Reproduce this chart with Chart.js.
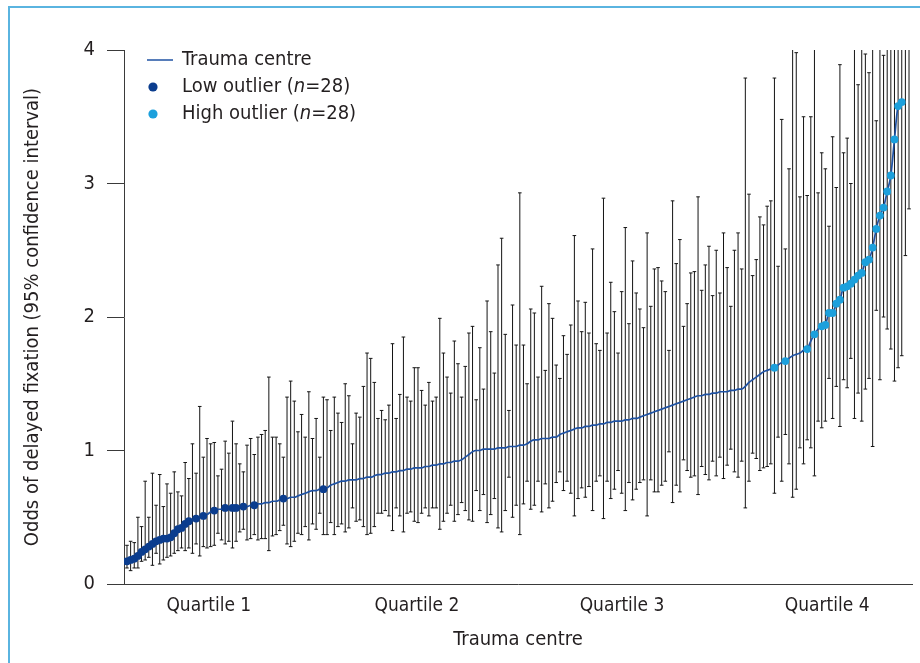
<!DOCTYPE html>
<html>
<head>
<meta charset="utf-8">
<script src="https://cdn.jsdelivr.net/npm/chart.js@4.4.1/dist/chart.umd.min.js"></script>
<style>
  html, body { margin: 0; padding: 0; background: #ffffff; }
  #wrap { position: relative; width: 920px; height: 663px; overflow: hidden; }
  #wrap canvas { position: absolute; left: 0; top: 0; }
  #frame { position: absolute; left: 8px; top: 6px; width: 1000px; height: 1000px;
           border: 2px solid #5ab4e0; box-sizing: border-box; pointer-events: none; }
</style>
</head>
<body>
<div id="wrap">
  <canvas id="chart" width="920" height="663"></canvas>
  <div id="frame"></div>
</div>
<script>
// Trauma centres ranked by odds of delayed fixation, with 95% confidence intervals.
const quartileLabels = ['Quartile 1', 'Quartile 2', 'Quartile 3', 'Quartile 4'];
const seriesNames = ['Trauma centre', 'Low outlier', 'High outlier'];
const axisTitles = ['Odds of delayed fixation (95% confidence interval)', 'Trauma centre'];

// Point estimate per centre, in rank order
const centreOdds = [
  0.17, 0.18, 0.19, 0.21, 0.24, 0.26, 0.28, 0.30, 0.32, 0.33,
  0.34, 0.34, 0.35, 0.38, 0.41, 0.42, 0.45, 0.47, 0.48, 0.49,
  0.50, 0.51, 0.52, 0.54, 0.55, 0.56, 0.56, 0.57, 0.57, 0.57,
  0.57, 0.58, 0.58, 0.58, 0.59, 0.59, 0.60, 0.60, 0.61, 0.61,
  0.62, 0.62, 0.63, 0.64, 0.64, 0.65, 0.65, 0.66, 0.67, 0.68,
  0.69, 0.70, 0.70, 0.71, 0.71, 0.72, 0.74, 0.75, 0.76, 0.77,
  0.77, 0.78, 0.78, 0.78, 0.79, 0.79, 0.80, 0.80, 0.81, 0.82,
  0.82, 0.83, 0.83, 0.84, 0.84, 0.85, 0.85, 0.86, 0.86, 0.87,
  0.87, 0.87, 0.88, 0.88, 0.89, 0.89, 0.90, 0.90, 0.91, 0.91,
  0.92, 0.92, 0.93, 0.95, 0.97, 0.99, 1.00, 1.00, 1.01, 1.01,
  1.01, 1.01, 1.02, 1.02, 1.02, 1.03, 1.03, 1.03, 1.04, 1.04,
  1.05, 1.07, 1.08, 1.08, 1.09, 1.09, 1.09, 1.10, 1.10, 1.12,
  1.13, 1.14, 1.15, 1.16, 1.17, 1.17, 1.18, 1.18, 1.19, 1.19,
  1.20, 1.20, 1.21, 1.21, 1.22, 1.22, 1.22, 1.23, 1.23, 1.24,
  1.24, 1.25, 1.26, 1.27, 1.28, 1.29, 1.30, 1.31, 1.32, 1.33,
  1.34, 1.35, 1.36, 1.37, 1.38, 1.39, 1.40, 1.41, 1.41, 1.42,
  1.42, 1.43, 1.43, 1.44, 1.44, 1.44, 1.45, 1.45, 1.46, 1.46,
  1.48, 1.51, 1.53, 1.55, 1.57, 1.59, 1.60, 1.61, 1.62, 1.64,
  1.66, 1.67, 1.69, 1.71, 1.72, 1.73, 1.75, 1.76, 1.82, 1.87,
  1.91, 1.93, 1.94, 2.03, 2.03, 2.10, 2.13, 2.22, 2.23, 2.25,
  2.28, 2.31, 2.33, 2.41, 2.43, 2.52, 2.66, 2.76, 2.82, 2.94,
  3.06, 3.33, 3.58, 3.61, 4.15, 4.40
];

// Lower 95% confidence limit per centre
const centreLower = [
  0.12, 0.10, 0.12, 0.12, 0.17, 0.18, 0.20, 0.14, 0.23, 0.15,
  0.18, 0.20, 0.21, 0.23, 0.25, 0.27, 0.25, 0.27, 0.23, 0.30,
  0.21, 0.28, 0.27, 0.28, 0.29, 0.38, 0.33, 0.30, 0.32, 0.27,
  0.32, 0.39, 0.41, 0.33, 0.34, 0.37, 0.33, 0.34, 0.34, 0.25,
  0.36, 0.37, 0.40, 0.44, 0.30, 0.28, 0.32, 0.38, 0.37, 0.43,
  0.33, 0.45, 0.41, 0.53, 0.37, 0.37, 0.46, 0.37, 0.43, 0.45,
  0.39, 0.42, 0.57, 0.47, 0.48, 0.43, 0.37, 0.38, 0.43, 0.53,
  0.53, 0.55, 0.51, 0.40, 0.57, 0.51, 0.39, 0.53, 0.54, 0.47,
  0.46, 0.53, 0.57, 0.51, 0.57, 0.57, 0.41, 0.47, 0.53, 0.59,
  0.47, 0.52, 0.61, 0.55, 0.48, 0.47, 0.70, 0.55, 0.67, 0.46,
  0.52, 0.64, 0.42, 0.39, 0.55, 0.80, 0.50, 0.59, 0.37, 0.60,
  0.77, 0.56, 0.59, 0.77, 0.54, 0.75, 0.57, 0.62, 0.76, 0.84,
  0.70, 0.77, 0.68, 0.51, 0.64, 0.72, 0.65, 0.73, 0.55, 0.77,
  0.81, 0.49, 0.77, 0.64, 0.71, 0.85, 0.68, 0.55, 0.76, 0.63,
  0.71, 0.76, 0.78, 0.51, 0.78, 0.69, 0.69, 0.74, 0.77, 0.99,
  0.61, 0.74, 0.69, 0.93, 0.85, 0.80, 0.81, 0.67, 0.88, 0.82,
  0.78, 0.92, 0.81, 0.95, 0.79, 0.89, 1.01, 0.84, 0.80, 0.92,
  0.57, 0.77, 0.98, 0.94, 0.85, 0.87, 0.88, 0.90, 0.68, 1.10,
  0.77, 1.12, 0.90, 0.65, 0.71, 1.02, 0.90, 1.08, 1.02, 0.81,
  1.22, 1.17, 1.22, 1.54, 1.24, 1.48, 1.18, 1.53, 1.47, 1.69,
  1.24, 1.43, 1.22, 1.46, 1.54, 1.03, 2.05, 1.53, 2.00, 1.91,
  1.76, 1.52, 1.62, 1.71, 2.46, 2.81
];

// Upper 95% confidence limit per centre
const centreUpper = [
  0.29, 0.32, 0.31, 0.50, 0.43, 0.77, 0.50, 0.83, 0.59, 0.82,
  0.58, 0.75, 0.68, 0.84, 0.69, 0.66, 0.91, 0.79, 1.05, 0.83,
  1.33, 0.95, 1.09, 1.05, 1.06, 0.81, 0.86, 1.07, 0.98, 1.22,
  1.05, 0.90, 0.84, 1.04, 1.09, 0.97, 1.10, 1.12, 1.15, 1.55,
  1.10, 1.10, 1.05, 0.95, 1.40, 1.52, 1.37, 1.14, 1.27, 1.10,
  1.44, 1.09, 1.24, 0.95, 1.40, 1.38, 1.15, 1.40, 1.28, 1.21,
  1.50, 1.41, 1.05, 1.28, 1.25, 1.48, 1.73, 1.69, 1.51, 1.24,
  1.30, 1.23, 1.34, 1.80, 1.24, 1.42, 1.85, 1.40, 1.37, 1.62,
  1.62, 1.45, 1.34, 1.51, 1.37, 1.40, 1.99, 1.73, 1.55, 1.43,
  1.82, 1.65, 1.40, 1.63, 1.88, 1.93, 1.38, 1.77, 1.46, 2.12,
  1.89, 1.58, 2.39, 2.59, 1.87, 1.30, 2.09, 1.79, 2.93, 1.79,
  1.50, 2.06, 2.03, 1.55, 2.23, 1.60, 2.10, 1.99, 1.64, 1.54,
  1.86, 1.72, 1.94, 2.61, 2.12, 1.89, 2.11, 1.88, 2.51, 1.80,
  1.75, 2.89, 1.88, 2.26, 2.04, 1.73, 2.19, 2.67, 1.95, 2.42,
  2.18, 2.06, 1.92, 2.63, 2.08, 2.36, 2.37, 2.27, 2.19, 1.75,
  2.87, 2.40, 2.58, 1.93, 2.10, 2.33, 2.34, 2.90, 2.20, 2.39,
  2.53, 2.16, 2.50, 2.18, 2.63, 2.37, 2.08, 2.50, 2.63, 2.36,
  3.79, 2.92, 2.31, 2.43, 2.75, 2.69, 2.83, 2.87, 3.79, 2.38,
  3.48, 2.51, 3.11, 4.40, 3.98, 2.90, 3.50, 2.91, 3.50, 4.30,
  2.93, 3.23, 3.11, 2.68, 3.35, 2.97, 3.89, 3.23, 3.34, 3.00,
  4.50, 3.74, 4.40, 3.97, 3.83, 4.60, 3.47, 4.50, 3.96, 4.70,
  4.80, 5.00, 5.20, 5.40, 5.80, 6.20
];

// Ranks of centres flagged as outliers
const lowOutliers = [1, 2, 3, 4, 5, 6, 7, 8, 9, 10, 11, 12, 13, 14, 15, 16, 17, 18,
                     20, 22, 25, 28, 30, 31, 33, 36, 44, 55];
const highOutliers = [179, 182, 188, 190, 192, 193, 194, 195, 196, 197, 198, 199, 200, 201,
                      202, 203, 204, 205, 206, 207, 208, 209, 210, 211, 212, 213, 214, 215];

const FONT = "'Liberation Sans Narrow', 'Arial Narrow', 'DejaVu Sans Condensed', sans-serif";
const TEXT = '#231f20';
const AXIS = '#3a3a3a';
const BAR = '#141414';
const LINE = '#1f52a3';
const LOW = '#0b3d8e';
const HIGH = '#1ca0dc';
const Y_MAX = 4;

const ranks = centreOdds.map((_, i) => i + 1);
const ciData = ranks.map((r, i) => ({ x: r, y: [centreLower[i], centreUpper[i]] }));
const capData = ranks.flatMap((r, i) => [{ x: r, y: centreLower[i] }, { x: r, y: centreUpper[i] }]);
// the trend line is traced only across the plotted odds range
const lineData = ranks.map((r, i) => ({ x: r, y: centreOdds[i] })).filter(p => p.y <= Y_MAX);
const lowData = lowOutliers.map(r => ({ x: r, y: centreOdds[r - 1] }));
const highData = highOutliers.map(r => ({ x: r, y: centreOdds[r - 1] }));

// Where the quartile captions sit along the rank axis
const quartileTickAt = [23.5, 80.7, 137.1, 193.5];

Chart.defaults.font.family = FONT;
Chart.defaults.color = TEXT;

// Key in the upper-left corner of the plot area, with an italic n in the counts
const seriesKey = {
  id: 'seriesKey',
  afterDraw(chart) {
    const { ctx, chartArea } = chart;
    const size = 20;
    const x0 = chartArea.left + 23;
    const textX = chartArea.left + 58;
    const y0 = chartArea.top + 10;
    const gap = 27;
    const runs = (parts, x, y) => {
      parts.forEach(([t, italic]) => {
        ctx.font = (italic ? 'italic ' : '') + size + 'px ' + FONT;
        ctx.fillText(t, x, y);
        x += ctx.measureText(t).width;
      });
    };
    ctx.save();
    ctx.textBaseline = 'middle';
    ctx.textAlign = 'left';
    ctx.fillStyle = TEXT;

    ctx.strokeStyle = LINE;
    ctx.lineWidth = 1.5;
    ctx.beginPath();
    ctx.moveTo(x0, y0);
    ctx.lineTo(x0 + 26, y0);
    ctx.stroke();
    runs([[seriesNames[0], false]], textX, y0);

    [[LOW, seriesNames[1], lowOutliers.length], [HIGH, seriesNames[2], highOutliers.length]]
      .forEach(([col, name, n], k) => {
        const y = y0 + gap * (k + 1);
        ctx.fillStyle = col;
        ctx.beginPath();
        ctx.arc(x0 + 6, y, 4.6, 0, Math.PI * 2);
        ctx.fill();
        ctx.fillStyle = TEXT;
        runs([[name + ' (', false], ['n', true], ['=' + n + ')', false]], textX, y);
      });
    ctx.restore();
  }
};

new Chart(document.getElementById('chart'), {
  type: 'bar',
  data: {
    datasets: [
      { type: 'scatter', label: seriesNames[2], data: highData, order: 0,
        pointRadius: 3.9, pointBackgroundColor: HIGH, pointBorderWidth: 0, pointHoverRadius: 3.9 },
      { type: 'scatter', label: seriesNames[1], data: lowData, order: 1,
        pointRadius: 3.9, pointBackgroundColor: LOW, pointBorderWidth: 0, pointHoverRadius: 3.9 },
      { type: 'line', label: seriesNames[0], data: lineData, order: 2,
        borderColor: LINE, borderWidth: 1.7, pointRadius: 0, cubicInterpolationMode: 'monotone', fill: false },
      { type: 'scatter', label: 'CI limits', data: capData, order: 3,
        pointStyle: 'line', pointRadius: 1.8, pointBorderWidth: 1, borderColor: BAR, backgroundColor: BAR },
      { type: 'bar', label: '95% CI', data: ciData, order: 4,
        barThickness: 1, inflateAmount: 0, backgroundColor: BAR, borderWidth: 0 }
    ]
  },
  options: {
    responsive: false,
    animation: false,
    devicePixelRatio: 1,
    layout: { padding: { left: 0, top: 50, right: 8, bottom: 0 } },
    plugins: { legend: { display: false }, tooltip: { enabled: false } },
    scales: {
      x: {
        type: 'linear',
        offset: false,
        min: 0.18,
        max: 216.82,
        afterBuildTicks: s => { s.ticks = quartileTickAt.map(v => ({ value: v })); },
        afterFit: s => { s.height = 79; },
        ticks: {
          autoSkip: false, maxRotation: 0, padding: 11,
          font: { size: 19 }, color: TEXT,
          callback: (v, i) => quartileLabels[i]
        },
        grid: { display: false, drawTicks: false },
        border: { display: true, color: AXIS, width: 1 },
        title: { display: true, text: axisTitles[1], font: { size: 20 }, color: TEXT,
                 padding: { top: 0, bottom: 11 } }
      },
      y: {
        min: 0,
        max: Y_MAX,
        afterFit: s => { s.width = 124; },
        ticks: { stepSize: 1, padding: 12, font: { size: 20 }, color: TEXT },
        grid: { display: true, drawOnChartArea: false, drawTicks: true, tickLength: 17,
                tickColor: AXIS, lineWidth: 1 },
        border: { display: true, color: AXIS, width: 1 },
        title: { display: true, text: axisTitles[0], font: { size: 20 }, color: TEXT,
                 padding: { top: 21, bottom: 0 } }
      }
    }
  },
  plugins: [seriesKey]
});
</script>
</body>
</html>
